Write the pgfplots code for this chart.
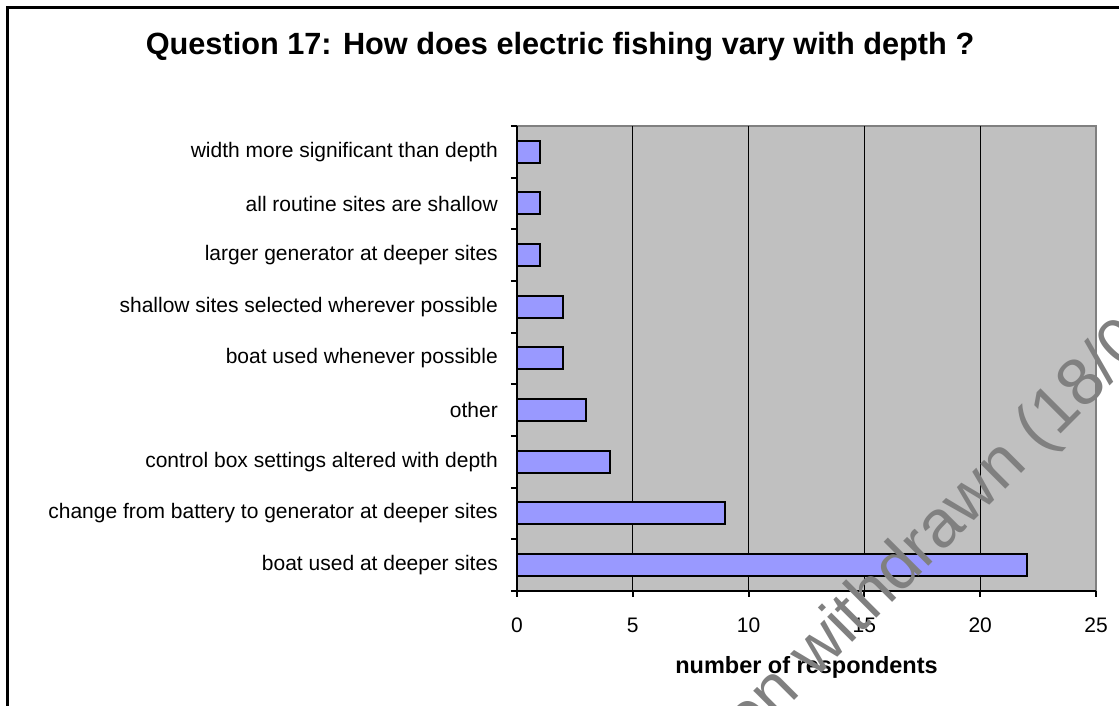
\documentclass[border=0pt]{standalone}
\usepackage{fontspec}
\setmainfont{Liberation Sans}
\usepackage{pgfplots}
\pgfplotsset{compat=1.18}
\definecolor{barfill}{HTML}{9999FF}
\definecolor{bggray}{HTML}{C0C0C0}
\definecolor{axgray}{HTML}{808080}
\definecolor{wmgray}{HTML}{808080}
\begin{document}
\begin{tikzpicture}
\path[use as bounding box] (0pt,0pt) rectangle (1119pt,706pt);
% outer frame (left and top visible)
\fill[black] (6pt,0pt) rectangle (8.8pt,700pt);
\fill[black] (6pt,697.2pt) rectangle (1119pt,700pt);
\begin{axis}[
  at={(517pt,115pt)}, anchor=south west,
  scale only axis, width=579pt, height=465pt,
  xbar, bar width=22pt,
  xmin=0, xmax=25, ymin=0.5, ymax=9.5,
  axis lines=left,
  axis line style={-, line width=2pt, black},
  axis background/.style={fill=bggray, draw=axgray, line width=2pt},
  tick align=outside,
  major tick length=6pt,
  tick style={line width=2pt, black},
  xtick={0,5,...,25},
  ytick={0.5,1.5,2.5,3.5,4.5,5.5,6.5,7.5,8.5,9.5},
  yticklabels={},
  extra y ticks={1,2,3,4,5,6,7,8,9},
  extra y tick labels={boat used at deeper sites,change from battery to generator at deeper sites,control box settings altered with depth,other,boat used whenever possible,shallow sites selected wherever possible,larger generator at deeper sites,all routine sites are shallow,width more significant than depth},
  extra y tick style={major tick length=0pt, yticklabel style={anchor=east, inner sep=0pt, xshift=-19pt}},
  extra x ticks={5,10,15,20},
  extra x tick labels={},
  extra x tick style={grid=major, major grid style={black, line width=1.2pt}, major tick length=0pt},
  ticklabel style={font=\fontsize{21}{25}\selectfont},
  /pgf/number format/assume math mode=true,
  xticklabel style={anchor=base, yshift=-36pt},
  xlabel={number of respondents},
  xlabel style={font=\bfseries\fontsize{23.5}{27}\selectfont, at={(axis description cs:0.5,0)}, anchor=base, yshift=-83pt},
  title={Question 17: How does electric fishing vary with depth ?},
  title style={font=\bfseries\fontsize{30.7}{35}\selectfont, at={(axis description cs:0.5,1)}, anchor=base, yshift=65pt, xshift=-246.5pt},
  clip=false,
]
\addplot[fill=barfill, draw=black, line width=2pt] coordinates {
  (22,1) (9,2) (4,3) (3,4) (2,5) (2,6) (1,7) (1,8) (1,9)
};
\end{axis}
% watermark
\pgfinterruptboundingbox
\begin{scope}
\clip (0pt,0pt) rectangle (1119pt,706pt);
\node[rotate=45, anchor=base west, inner sep=0pt, text=wmgray, font=\fontsize{67}{73}\selectfont] at (815pt,26pt) {withdrawn (18/05/2006)};
\node[rotate=45, anchor=base east, inner sep=0pt, text=wmgray, font=\fontsize{67}{73}\selectfont] at (802pt,13pt) {Publication};
\end{scope}
\endpgfinterruptboundingbox
\end{tikzpicture}
\end{document}
